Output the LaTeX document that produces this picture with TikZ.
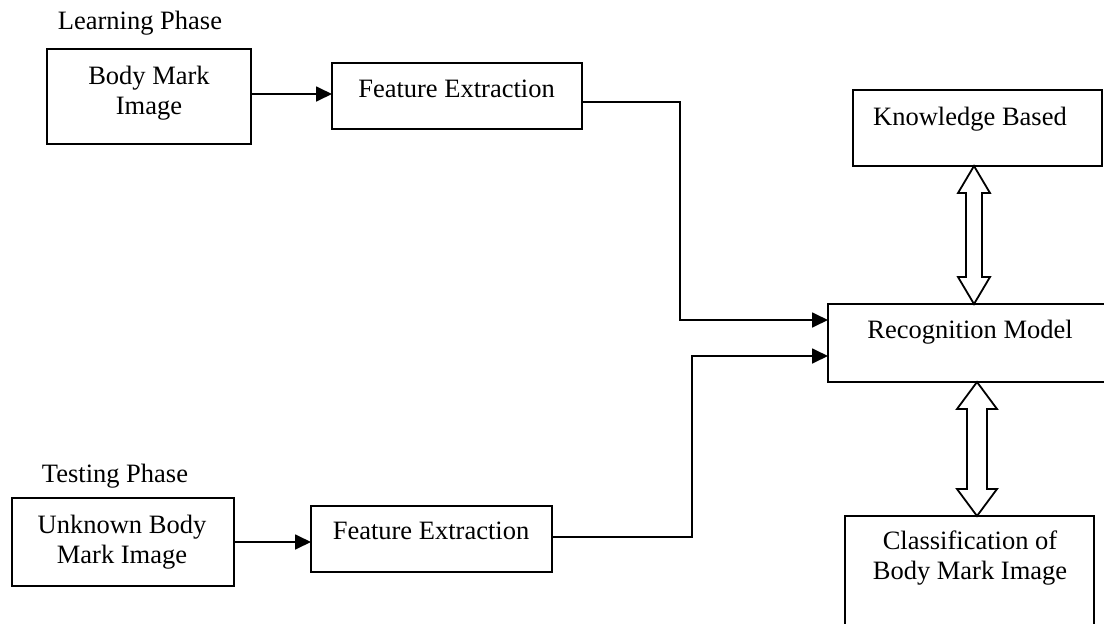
\documentclass[tikz,border=0pt]{standalone}
\usepackage{fontspec}
\setmainfont{Liberation Serif}
\usetikzlibrary{arrows.meta,calc}
\tikzset{
  box/.style={draw, line width=1.8pt, inner sep=0pt, outer sep=0pt},
  lbl/.style={anchor=base, inner sep=0pt, align=center, font=\fontsize{26.5}{30}\selectfont},
  arr/.style={line width=1.8pt, -{Triangle[length=16pt,width=15pt]}},
  dbl/.style={draw, line width=1.8pt, fill=white, line join=miter}
}
\begin{document}
\begin{tikzpicture}[x=1pt,y=-1pt]
\useasboundingbox (0,0) rectangle (1104,624);
\clip (0,0) rectangle (1104,624);
% boxes
\node[box, minimum width=204pt, minimum height=95pt] (b1) at (149,96.5) {};
\node[box, minimum width=250pt, minimum height=66pt] (fe1) at (457,96) {};
\node[box, minimum width=249pt, minimum height=76pt] (kn) at (977.5,128) {};
\node[box, minimum width=302pt, minimum height=78pt] (rec) at (979,343) {};
\node[box, minimum width=222pt, minimum height=88pt] (uk) at (123,542) {};
\node[box, minimum width=241pt, minimum height=66pt] (fe2) at (431.5,539) {};
\node[box, minimum width=249pt, minimum height=134pt] (cl) at (969.5,583) {};
% labels
\node[lbl] (tlp) at (140,29) {Learning Phase};
\node[lbl] (tb1) at (149,114) {Body Mark\\Image};
\node[lbl] (tfe1) at (456.5,97) {Feature Extraction};
\node[lbl] (tkn) at (970,125) {Knowledge Based};
\node[lbl] (trec) at (970,338) {Recognition Model};
\node[lbl] (ttp) at (115,482) {Testing Phase};
\node[lbl] (tuk) at (122,563) {Unknown Body\\Mark Image};
\node[lbl] (tfe2) at (431,539) {Feature Extraction};
\node[lbl] (tcl) at (970,579) {Classification of\\Body Mark Image};
% connectors
\coordinate (j1) at (680,320);
\coordinate (j2) at (692,356);
\draw[arr] ([yshift=2.5pt]b1.east) -- ([yshift=2.5pt]b1.east -| fe1.west);
\draw[arr] ([yshift=-6pt]fe1.east) -| (j1) -- (j1 -| rec.west);
\draw[arr] (uk.east) -- (uk.east -| fe2.west);
\draw[arr] ([yshift=2pt]fe2.east) -| (j2) -- (j2 -| rec.west);
% double arrows
\coordinate (a1t) at ([xshift=-3.5pt]kn.south);
\coordinate (a1b) at (a1t |- rec.north);
\draw[dbl] (a1t) -- ($(a1t)+(16,27)$) -- ($(a1t)+(8,27)$) -- ($(a1b)+(8,-27)$) -- ($(a1b)+(16,-27)$) -- (a1b)
  -- ($(a1b)+(-16,-27)$) -- ($(a1b)+(-8,-27)$) -- ($(a1t)+(-8,27)$) -- ($(a1t)+(-16,27)$) -- cycle;
\coordinate (a2t) at ([xshift=-2pt]rec.south);
\coordinate (a2b) at (a2t |- cl.north);
\draw[dbl] (a2t) -- ($(a2t)+(20,27)$) -- ($(a2t)+(10,27)$) -- ($(a2b)+(10,-27)$) -- ($(a2b)+(20,-27)$) -- (a2b)
  -- ($(a2b)+(-20,-27)$) -- ($(a2b)+(-10,-27)$) -- ($(a2t)+(-10,27)$) -- ($(a2t)+(-20,27)$) -- cycle;
\end{tikzpicture}
\end{document}
